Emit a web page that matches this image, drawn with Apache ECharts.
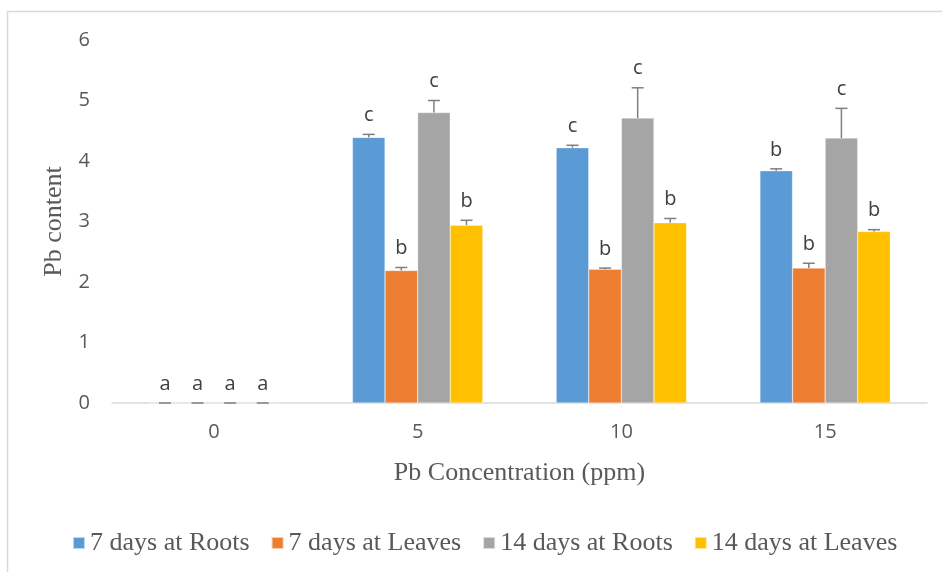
<!DOCTYPE html>
<html>
<head>
<meta charset="utf-8">
<script src="https://cdn.jsdelivr.net/npm/echarts@6/dist/echarts.min.js"></script>
<style>html,body{margin:0;padding:0;background:#fff;}#c{width:942px;height:572px;}</style>
</head>
<body>
<div id="c"></div>
<script>
const categories = ['0', '5', '10', '15'];
const seriesNames = ['7 days at Roots', '7 days at Leaves', '14 days at Roots', '14 days at Leaves'];
const roots7 = [0, 4.39, 4.22, 3.84];
const leaves7 = [0, 2.19, 2.21, 2.23];
const roots14 = [0, 4.80, 4.71, 4.38];
const leaves14 = [0, 2.94, 2.98, 2.835];
const errRoots7 = [0, 0.05, 0.04, 0.03];
const errLeaves7 = [0, 0.05, 0.02, 0.08];
const errRoots14 = [0, 0.20, 0.50, 0.49];
const errLeaves14 = [0, 0.08, 0.07, 0.03];
const letRoots7 = ['a', 'c', 'c', 'b'];
const letLeaves7 = ['a', 'b', 'b', 'b'];
const letRoots14 = ['a', 'c', 'c', 'c'];
const letLeaves14 = ['a', 'b', 'b', 'b'];
const yTicks = [0, 6, 1];

const colors = ['#5B9BD5', '#ED7D31', '#A5A5A5', '#FFC000'];
const values = [roots7, leaves7, roots14, leaves14];
const errs = [errRoots7, errLeaves7, errRoots14, errLeaves14];
const letters = [letRoots7, letLeaves7, letRoots14, letLeaves14];
const barFrac = 0.64;
const serif = '"Liberation Serif", "Times New Roman", serif';
const sans = '"Open Sans", "Noto Sans", sans-serif';

const chart = echarts.init(document.getElementById('c'));
const series = [];
values.forEach((vals, k) => {
  series.push({
    name: seriesNames[k], type: 'bar', data: vals,
    barGap: '0%', barCategoryGap: '36%',
    itemStyle: { color: colors[k], borderColor: 'rgba(255,255,255,0.6)', borderWidth: 0.5 },
    z: 2
  });
});
values.forEach((vals, k) => {
  series.push({
    type: 'custom', name: 'err' + k, z: 5,
    data: vals.map((v, i) => [i, v, errs[k][i]]),
    encode: { x: 0, y: 1 },
    renderItem: function (params, api) {
      const ci = api.value(0), v = api.value(1), e = api.value(2);
      const base = api.coord([ci, v]);
      const top = api.coord([ci, v + e]);
      const bandW = api.size([1, 0])[0];
      const bw = bandW * barFrac / 4;
      const x = base[0] + (k - 1.5) * bw;
      const lt = letters[k][params.dataIndex];
      return {
        type: 'group',
        children: [
          { type: 'line', shape: { x1: x, y1: base[1], x2: x, y2: top[1] }, style: { stroke: '#7F7F7F', lineWidth: 1.5 } },
          { type: 'line', shape: { x1: x - 6, y1: top[1], x2: x + 6, y2: top[1] }, style: { stroke: '#7F7F7F', lineWidth: 1.5 } },
          { type: 'text', style: { text: lt, x: x, y: top[1] - 9, align: 'center', verticalAlign: 'bottom', fill: '#404040', font: '20px ' + sans } }
        ]
      };
    }
  });
});

chart.setOption({
  animation: false,
  color: colors,
  graphic: [{ type: 'rect', shape: { x: 7.5, y: 11.5, width: 1000, height: 1000 }, style: { fill: 'none', stroke: '#D9D9D9', lineWidth: 1.5 }, silent: true }],
  grid: { left: 112, right: 15, top: 40, bottom: 169 },
  legend: {
    data: seriesNames, top: 525, left: 67,
    itemWidth: 12, itemHeight: 12, itemGap: 21, icon: 'rect',
    textStyle: { fontFamily: serif, fontSize: 26, color: '#595959' }
  },
  xAxis: {
    type: 'category', data: categories,
    axisTick: { show: false },
    axisLine: { lineStyle: { color: '#D9D9D9', width: 1.5 } },
    axisLabel: { color: '#595959', fontSize: 20, fontFamily: sans, margin: 19 },
    name: 'Pb Concentration (ppm)', nameLocation: 'middle', nameGap: 57,
    nameTextStyle: { fontFamily: serif, fontSize: 26, color: '#595959' }
  },
  yAxis: {
    type: 'value', min: yTicks[0], max: yTicks[1], interval: yTicks[2],
    axisLine: { show: false }, axisTick: { show: false }, splitLine: { show: false },
    axisLabel: { color: '#595959', fontSize: 20, fontFamily: sans, margin: 22 },
    name: 'Pb content', nameLocation: 'middle', nameGap: 42, nameRotate: 90,
    nameTextStyle: { fontFamily: serif, fontSize: 26, color: '#595959' }
  },
  series: series
});
</script>
</body>
</html>
